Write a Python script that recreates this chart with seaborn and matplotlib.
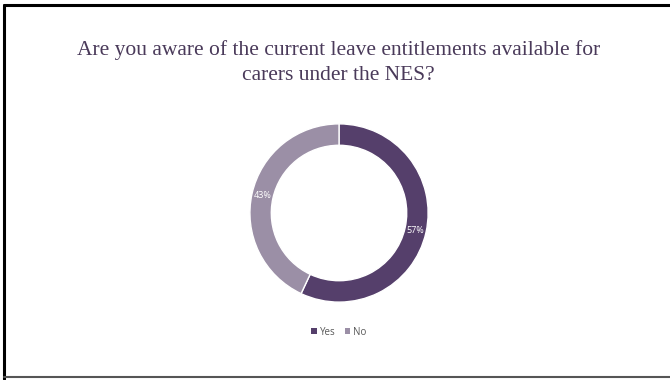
import matplotlib
matplotlib.use("Agg")
import matplotlib.pyplot as plt
import seaborn as sns
import numpy as np
from matplotlib.patches import Patch
from matplotlib.lines import Line2D

# Survey responses
categories = ["Yes", "No"]
shares = [57, 43]
colors = ["#553F6B", "#9B8FA6"]

title_lines = ["Are you aware of the current leave entitlements available for",
               "carers under the NES?"]

sns.set_theme(style="white")
plt.rcParams["font.family"] = ["DejaVu Sans"]

fig = plt.figure(figsize=(6.7, 3.8), dpi=100)
fig.patch.set_facecolor("white")

# Slide frame
fig.add_artist(Line2D([0.0060, 0.0060], [0.003, 0.986], color="black", lw=2.2, transform=fig.transFigure))
fig.add_artist(Line2D([0.0060, 1.0], [0.986, 0.986], color="black", lw=2.2, transform=fig.transFigure))
fig.add_artist(Line2D([0.0060, 1.0], [0.007, 0.007], color="#555555", lw=1.5, transform=fig.transFigure))

# Title, one line at a time
for y, line in zip([0.855, 0.789], title_lines):
    fig.text(0.505, y, line, ha="center", va="baseline", fontsize=15.5,
             family="Liberation Serif", color="#4A3A5A")

# Donut
ax = fig.add_axes([0.5060 - 0.1330, 0.4395 - 0.2350, 0.2660, 0.4700])
wedges, texts = ax.pie(
    shares, colors=colors, startangle=90, counterclock=False,
    wedgeprops=dict(width=0.24, edgecolor="white", linewidth=1.0),
)
ax.set_aspect("equal")
ax.set_xlim(-1, 1)
ax.set_ylim(-1, 1)

# Percent labels on the ring
for w, s in zip(wedges, shares):
    mid = np.deg2rad((w.theta1 + w.theta2) / 2)
    r = 0.88
    ax.text(r * np.cos(mid), r * np.sin(mid), f"{s}%", ha="center", va="center",
            fontsize=6.5, color="white", family="Open Sans")

# Legend
handles = [Patch(facecolor=c, edgecolor="none") for c in colors]
fig.legend(handles, categories, loc="center", bbox_to_anchor=(0.506, 0.126), ncol=2,
           frameon=False, handlelength=0.55, handleheight=0.55,
           handletextpad=0.35, columnspacing=0.9, labelcolor="#595959",
           prop={"family": "Open Sans", "size": 7})

fig.savefig("out.png", dpi=100, facecolor="white")
